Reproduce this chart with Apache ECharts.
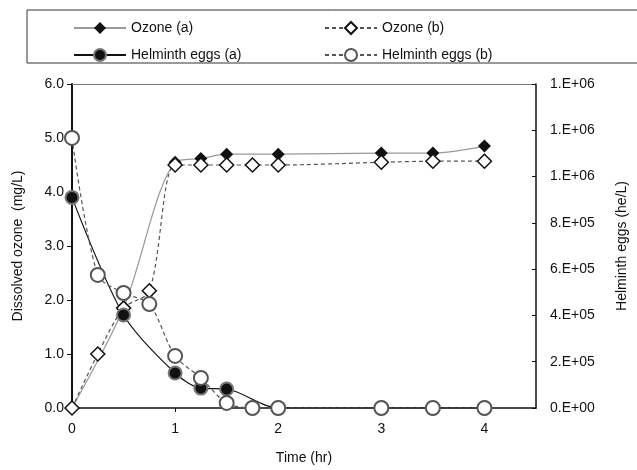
<!DOCTYPE html>
<html>
<head>
<meta charset="utf-8">
<script src="https://cdn.jsdelivr.net/npm/echarts@6/dist/echarts.min.js"></script>
<style>
  html, body { margin: 0; padding: 0; background: #fff; }
  #chart { width: 637px; height: 470px; }
</style>
</head>
<body>
<div id="chart"></div>
<script>
// time points (hr) and readings
var ozoneATimes = [0, 0.5, 1, 1.25, 1.5, 2, 3, 3.5, 4];
var ozoneAVals  = [0, 1.85, 4.55, 4.62, 4.7, 4.7, 4.72, 4.72, 4.85];

var ozoneBTimes = [0, 0.25, 0.5, 0.75, 1, 1.25, 1.5, 1.75, 2, 3, 3.5, 4];
var ozoneBVals  = [0, 1.0, 1.85, 2.17, 4.5, 4.5, 4.5, 4.5, 4.5, 4.55, 4.57, 4.57];

var eggsATimes = [0, 0.5, 1, 1.25, 1.5, 2, 3, 3.5, 4];
var eggsAVals  = [910000, 402000, 151000, 86000, 82000, 0, 0, 0, 0];

var eggsBTimes = [0, 0.25, 0.5, 0.75, 1, 1.25, 1.5, 1.75, 2, 3, 3.5, 4];
var eggsBVals  = [1167000, 575000, 497000, 449000, 225000, 130000, 22000, 0, 0, 0, 0, 0];

function pairs(xs, ys) {
	var out = [];
	for (var i = 0; i < xs.length; i++) {
		out.push([xs[i], ys[i]]);
	}
	return out;
}

// Excel style "0.E+00"
function sciLabel(v) {
	if (v === 0) return '0.E+00';
	var exp = Math.floor(Math.log10(v));
	var mant = Math.round(v / Math.pow(10, exp));
	if (mant >= 10) { mant = 1; exp += 1; }
	return mant + '.E+' + (exp < 10 ? '0' + exp : exp);
}

var chart = echarts.init(document.getElementById('chart'));
var font = 'Liberation Sans, Arial, sans-serif';

option = {
	animation : false,
	textStyle : { fontFamily : font },
	graphic : [ {
		type : 'rect',
		shape : { x : 27, y : 10, width : 620, height : 53 },
		style : { fill : 'none', stroke : '#333', lineWidth : 1 }
	} ],
	legend : [ {
		data : [ 'Ozone (a)', 'Helminth eggs (a)' ],
		orient : 'vertical',
		left : 68,
		top : 16,
		itemWidth : 52,
		itemHeight : 15,
		itemGap : 13,
		textStyle : { fontSize : 14, color : '#111', fontFamily : font }
	}, {
		data : [ 'Ozone (b)', 'Helminth eggs (b)' ],
		orient : 'vertical',
		left : 319,
		top : 16,
		itemWidth : 52,
		itemHeight : 15,
		itemGap : 13,
		textStyle : { fontSize : 14, color : '#111', fontFamily : font }
	} ],
	grid : {
		left : 72,
		right : 100,
		top : 84,
		bottom : 62
	},
	xAxis : [ {
		type : 'value',
		min : 0,
		max : 4.5,
		interval : 1,
		name : 'Time (hr)',
		nameLocation : 'middle',
		nameGap : 43,
		nameTextStyle : { fontSize : 14, color : '#111' },
		axisLine : { onZero : false, lineStyle : { color : '#111', width : 1.5 } },
		axisTick : { show : true, inside : false, length : 4, lineStyle : { color : '#111' } },
		axisLabel : { fontSize : 14, color : '#111', margin : 14, showMaxLabel : false },
		splitLine : { show : false }
	}, {
		type : 'value',
		position : 'top',
		min : 0,
		max : 4.5,
		axisLine : { show : true, onZero : false, lineStyle : { color : '#777', width : 1 } },
		axisTick : { show : false },
		axisLabel : { show : false },
		splitLine : { show : false }
	} ],
	yAxis : [ {
		type : 'value',
		min : 0,
		max : 6,
		interval : 1,
		name : 'Dissolved ozone  (mg/L)',
		nameLocation : 'middle',
		nameGap : 47,
		nameTextStyle : { fontSize : 14, color : '#111' },
		axisLine : { show : true, onZero : false, lineStyle : { color : '#111', width : 2 } },
		axisTick : { show : true, length : 5, lineStyle : { color : '#111' } },
		axisLabel : {
			fontSize : 14, color : '#111', margin : 8,
			formatter : function(v) { return v.toFixed(1); }
		},
		splitLine : { show : false }
	}, {
		type : 'value',
		position : 'right',
		min : 0,
		max : 1400000,
		interval : 200000,
		name : 'Helminth eggs (he/L)',
		nameLocation : 'middle',
		nameGap : 79,
		nameRotate : 90,
		nameTextStyle : { fontSize : 14, color : '#111' },
		axisLine : { show : true, onZero : false, lineStyle : { color : '#111', width : 1.5 } },
		axisTick : { show : true, inside : true, length : 4, lineStyle : { color : '#111' } },
		axisLabel : { fontSize : 14, color : '#111', margin : 14, formatter : sciLabel },
		splitLine : { show : false }
	} ],
	series : [ {
		name : 'Ozone (a)',
		type : 'line',
		yAxisIndex : 0,
		data : pairs(ozoneATimes, ozoneAVals),
		smooth : 0.3,
		symbol : 'diamond',
		symbolSize : 13,
		itemStyle : { color : '#111', borderWidth : 0 },
		lineStyle : { color : '#999', width : 1.2 }
	}, {
		name : 'Ozone (b)',
		type : 'line',
		yAxisIndex : 0,
		data : pairs(ozoneBTimes, ozoneBVals),
		smooth : 0.3,
		symbol : 'diamond',
		symbolSize : 14,
		itemStyle : { color : '#fff', borderColor : '#111', borderWidth : 1.5 },
		lineStyle : { color : '#555', width : 1.2, type : [4, 3] }
	}, {
		name : 'Helminth eggs (a)',
		type : 'line',
		yAxisIndex : 1,
		data : pairs(eggsATimes, eggsAVals),
		smooth : 0.3,
		symbol : 'circle',
		symbolSize : 13,
		itemStyle : { color : '#111', borderColor : '#777', borderWidth : 2 },
		lineStyle : { color : '#111', width : 1.2 }
	}, {
		name : 'Helminth eggs (b)',
		type : 'line',
		yAxisIndex : 1,
		data : pairs(eggsBTimes, eggsBVals),
		smooth : 0.3,
		symbol : 'circle',
		symbolSize : 14,
		itemStyle : { color : '#fff', borderColor : '#555', borderWidth : 2 },
		lineStyle : { color : '#555', width : 1.2, type : [4, 3] }
	} ]
};

chart.setOption(option);
</script>
</body>
</html>
